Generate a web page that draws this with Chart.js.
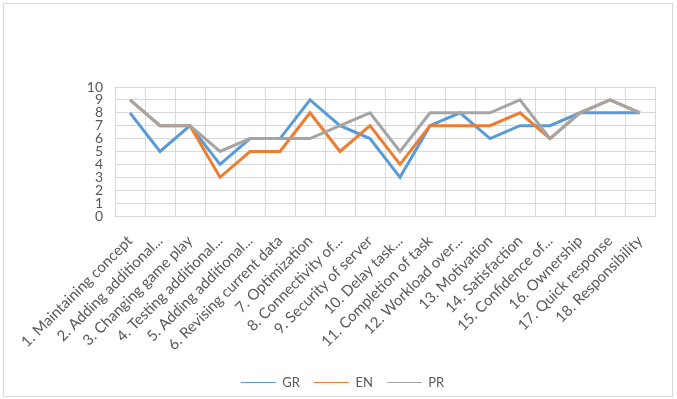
<!DOCTYPE html>
<html>
<head>
<meta charset="utf-8">
<script src="https://cdn.jsdelivr.net/npm/chart.js@4"></script>
<style>
    html, body { margin: 0; padding: 0; background: #fff; }
    #wrap { position: relative; width: 677px; height: 399px; }
    #frame { position: absolute; left: 3px; top: 3px; width: 668px; height: 392px; border: 1px solid #d9d9d9; pointer-events: none; }
</style>
</head>
<body>
<div id="wrap">
    <canvas id="chart" width="677" height="399"></canvas>
    <div id="frame"></div>
</div>
<script>
// Categories and series
const categories = [
    '1. Maintaining concept', '2. Adding additional...', '3. Changing game play',
    '4. Testing additional...', '5. Adding additional...', '6. Revising current data',
    '7. Optimization', '8. Connectivity of...', '9. Security of server',
    '10. Delay task...', '11. Completion of task', '12. Workload over...',
    '13. Motivation', '14. Satisfaction', '15. Confidence of...',
    '16. Ownership', '17. Quick response', '18. Responsibility'
];
const grValues = [8, 5, 7, 4, 6, 6, 9, 7, 6, 3, 7, 8, 6, 7, 7, 8, 8, 8];
const enValues = [9, 7, 7, 3, 5, 5, 8, 5, 7, 4, 7, 7, 7, 8, 6, 8, 9, 8];
const prValues = [9, 7, 7, 5, 6, 6, 6, 7, 8, 5, 8, 8, 8, 9, 6, 8, 9, 8];
const yTicks = [0, 1, 2, 3, 4, 5, 6, 7, 8, 9, 10];

const textColor = '#595959';
const gridColor = '#d9d9d9';

document.addEventListener('DOMContentLoaded', function() {
    const ctx = document.getElementById('chart').getContext('2d');

    new Chart(ctx, {
        type: 'line',
        data: {
            labels: categories,
            datasets: [
                { label: 'GR', data: grValues, borderColor: '#5b9bd5', backgroundColor: '#5b9bd5', order: 2 },
                { label: 'EN', data: enValues, borderColor: '#ed7d31', backgroundColor: '#ed7d31', order: 1 },
                { label: 'PR', data: prValues, borderColor: '#a5a5a5', backgroundColor: '#a5a5a5', order: 0 }
            ]
        },
        options: {
            responsive: false,
            animation: false,
            layout: {
                padding: { left: 30, right: 22, top: 87, bottom: 0 }
            },
            elements: {
                line: { borderWidth: 3, tension: 0 },
                point: { radius: 0, hoverRadius: 0 }
            },
            scales: {
                x: {
                    offset: true,
                    grid: { offset: true, color: gridColor, drawTicks: false },
                    border: { color: gridColor },
                    ticks: {
                        color: textColor,
                        font: { family: 'Lato', size: 15 },
                        minRotation: 45,
                        maxRotation: 45,
                        autoSkip: false,
                        padding: 16
                    },
                    afterFit: function(scale) { scale.height = 146; }
                },
                y: {
                    min: 0,
                    max: 10,
                    afterBuildTicks: function(scale) {
                        scale.ticks = yTicks.map(v => ({ value: v }));
                    },
                    grid: { color: gridColor, drawTicks: false },
                    border: { display: false },
                    ticks: {
                        color: textColor,
                        font: { family: 'Lato', size: 14 },
                        autoSkip: false,
                        padding: 12
                    },
                    afterFit: function(scale) { scale.width = 85; }
                }
            },
            plugins: {
                legend: {
                    position: 'bottom',
                    labels: {
                        color: textColor,
                        font: { family: 'Lato', size: 13 },
                        usePointStyle: true,
                        pointStyle: 'line',
                        pointStyleWidth: 35,
                        boxHeight: 10,
                        padding: 14,
                        sort: (a, b) => a.datasetIndex - b.datasetIndex
                    }
                },
                tooltip: { enabled: false }
            }
        }
    });
});
</script>
</body>
</html>
